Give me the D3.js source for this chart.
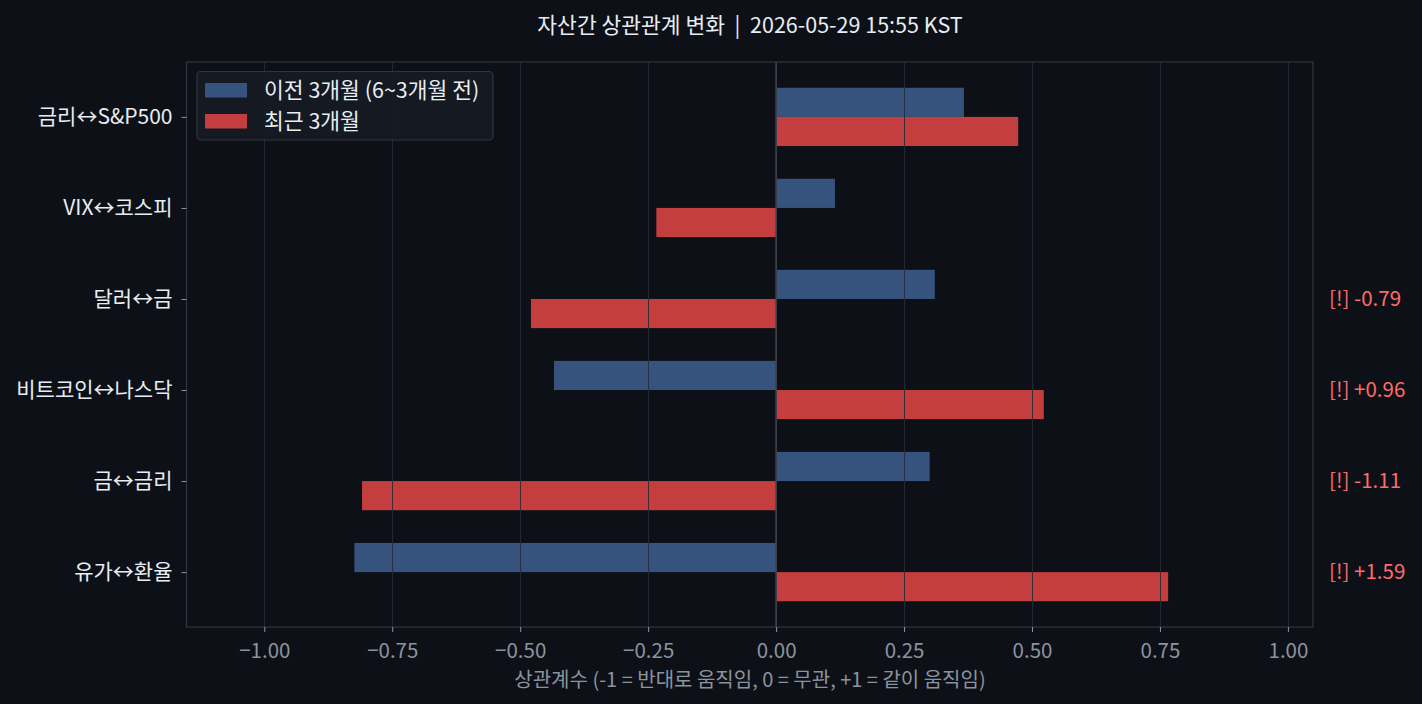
<!DOCTYPE html>
<html><head><meta charset="utf-8">
<script src="https://cdn.jsdelivr.net/npm/d3@7"></script>
<style>
html,body{margin:0;padding:0;background:#0d1117;}
svg{display:block;}
text{font-family:"Noto Sans CJK KR","Noto Sans",sans-serif;}
</style></head>
<body>
<svg id="chart" width="1422" height="704"></svg>
<script>
const categories = ["금리↔S&P500","VIX↔코스피","달러↔금","비트코인↔나스닥","금↔금리","유가↔환율"];
const prevValues = [0.367, 0.115, 0.310, -0.434, 0.300, -0.824];
const recentValues = [0.473, -0.234, -0.479, 0.523, -0.809, 0.766];
const seriesNames = ["이전 3개월 (6~3개월 전)", "최근 3개월"];
const alertLabels = [null, null, "[!] -0.79", "[!] +0.96", "[!] -1.11", "[!] +1.59"];
const xTicks = [-1.00,-0.75,-0.50,-0.25,0.00,0.25,0.50,0.75,1.00];
const titleText = "자산간 상관관계 변화  |  2026-05-29 15:55 KST";
const xLabelText = "상관계수 (-1 = 반대로 움직임, 0 = 무관, +1 = 같이 움직임)";

const svg = d3.select("#chart");
const L=186.5, R=1313, T=62, B=627;
const barH = 0.32;
const x = d3.scaleLinear().domain([-1.152,1.049]).range([L,R]);
const y = d3.scaleLinear().domain([-0.603,5.603]).range([T,B]);

svg.append("rect").attr("width",1422).attr("height",704).attr("fill","#0d1117");

// bars
const g = svg.append("g");
categories.forEach((c,i)=>{
  const pv = prevValues[i], rv = recentValues[i];
  g.append("rect").attr("x",x(Math.min(0,pv))).attr("width",Math.abs(x(pv)-x(0)))
    .attr("y",y(i-barH)).attr("height",y(i)-y(i-barH)).attr("fill","#36537d");
  g.append("rect").attr("x",x(Math.min(0,rv))).attr("width",Math.abs(x(rv)-x(0)))
    .attr("y",y(i)).attr("height",y(i+barH)-y(i)).attr("fill","#c43e3f");
});

// grid on top
svg.append("g").selectAll("line").data(xTicks).join("line")
  .attr("x1",d=>Math.round(x(d))+0.5).attr("x2",d=>Math.round(x(d))+0.5)
  .attr("y1",T).attr("y2",B).attr("stroke","#272c34").attr("stroke-width",0.9);

// zero line
svg.append("line").attr("x1",x(0)).attr("x2",x(0)).attr("y1",T).attr("y2",B)
  .attr("stroke","#3d434c").attr("stroke-width",1.6);

// spines
svg.append("rect").attr("x",L).attr("y",T).attr("width",R-L).attr("height",B-T)
  .attr("fill","none").attr("stroke","#30363d").attr("stroke-width",1.2);

const FF = "'Noto Sans CJK KR','Noto Sans',sans-serif";
// x axis
const xAxis = d3.axisBottom(x).tickValues(xTicks).tickSize(5).tickPadding(11)
  .tickFormat(d=>d3.format(".2f")(d).replace("-","\u2212"));
const xg = svg.append("g").attr("transform",`translate(0,${B})`).call(xAxis);
xg.select(".domain").remove();
xg.selectAll(".tick line").attr("stroke","#8b949e").attr("stroke-width",1);
xg.selectAll(".tick text").attr("fill","#8b949e").attr("font-size",20.5).style("font-family",FF);

// y axis
const yAxis = d3.axisLeft(y).tickValues(d3.range(categories.length)).tickSize(5).tickPadding(9)
  .tickFormat(i=>categories[i]);
const yg = svg.append("g").attr("transform",`translate(${L},0)`).call(yAxis);
yg.select(".domain").remove();
yg.selectAll(".tick line").attr("stroke","#8b949e").attr("stroke-width",1);
yg.selectAll(".tick text").attr("fill","#e6edf3").attr("font-size",21).style("font-family",FF);

// alert labels
svg.append("g").selectAll("text").data(categories.map((c,i)=>({i,t:alertLabels[i]})).filter(d=>d.t))
  .join("text").attr("x",1329).attr("y",d=>y(d.i)).attr("dy","0.35em")
  .attr("fill","#ff6b6b").attr("font-size",20.5).text(d=>d.t);

// title
svg.append("text").attr("x",750).attr("y",33).attr("text-anchor","middle")
  .style("white-space","pre").attr("xml:space","preserve")
  .attr("fill","#e6edf3").attr("font-size",21.5).text(titleText);

// x label
svg.append("text").attr("x",750).attr("y",687).attr("text-anchor","middle")
  .attr("fill","#8b949e").attr("font-size",20).text(xLabelText);

// legend
const lg = svg.append("g");
lg.append("rect").attr("x",197).attr("y",71.5).attr("width",296).attr("height",68.5).attr("rx",4)
  .attr("fill","#161b22").attr("fill-opacity",0.9).attr("stroke","#30363d").attr("stroke-width",1.2);
const legColors = ["#36537d","#c43e3f"];
seriesNames.forEach((s,i)=>{
  const cy = 90 + i*31;
  lg.append("rect").attr("x",205).attr("y",cy-7).attr("width",42).attr("height",14.5).attr("fill",legColors[i]);
  lg.append("text").attr("x",264).attr("y",cy).attr("dy","0.36em").attr("fill","#e6edf3")
    .attr("font-size",21.5).text(s);
});
</script>
</body></html>
